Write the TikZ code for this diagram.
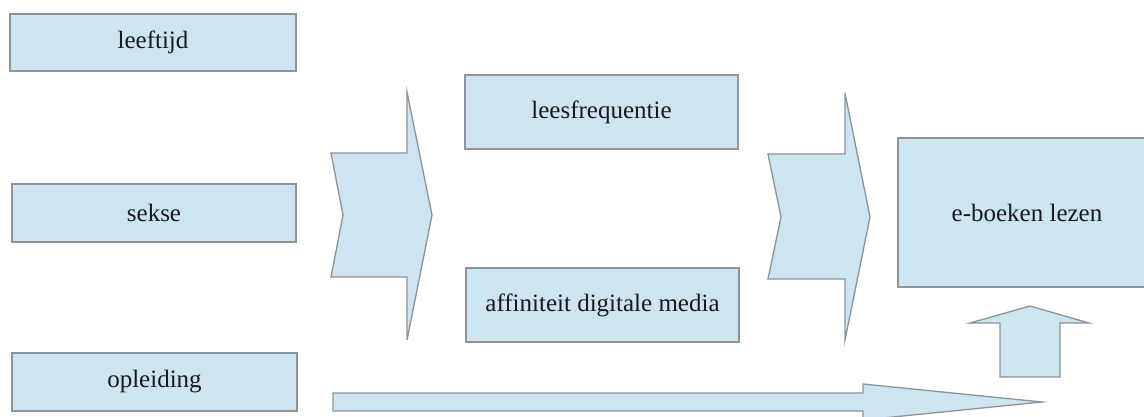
\documentclass[tikz,border=0pt]{standalone}
\usepackage{fontspec}
\setmainfont{Liberation Serif}
\definecolor{boxfill}{RGB}{205,228,241}
\definecolor{boxline}{RGB}{140,148,153}
\begin{document}
\begin{tikzpicture}[x=1pt,y=-1pt,
  factor/.style={draw=boxline, fill=boxfill, line width=1.3pt, inner sep=0pt,
    font=\fontsize{25}{29}\selectfont, text=black!90},
  blockarrow/.style={draw=boxline, fill=boxfill, line width=1.3pt, line join=miter}]
\useasboundingbox (0,0) rectangle (1144,417);
\clip (0,0) rectangle (1144,417);
\fill[white] (0,0) rectangle (1144,417);
% input boxes
\node[factor, minimum width=286pt, minimum height=57pt] (leeftijd) at (153,42.5) {leeftijd};
\node[factor, minimum width=284pt, minimum height=58pt] (sekse) at (154,213) {sekse};
\node[factor, minimum width=285pt, minimum height=58pt] (opleiding) at (154.5,382) {opleiding};
% mediators
\node[factor, minimum width=273pt, minimum height=74pt] (lees) at (601.5,112) {leesfrequentie};
\node[factor, minimum width=273pt, minimum height=74pt] (affin) at (602.5,305) {affiniteit digitale media};
% outcome
\node[factor, minimum width=258pt, minimum height=149pt] (ebook) at (1027,212.5) {e-boeken lezen};
% chevron block arrows
\draw[blockarrow] (407,92) -- (432,215) -- (407,340) -- (407,277) -- (331,277) -- (343,215) -- (331,153) -- (407,153) -- cycle;
\draw[blockarrow] (845,93) -- (870,217) -- (845,340) -- (845,279) -- (768,279) -- (781,217) -- (768,154) -- (845,154) -- cycle;
% up arrow into outcome
\draw[blockarrow] (1030,306) -- (1089,323) -- (1060,323) -- (1060,377) -- (1000,377) -- (1000,323) -- (970,323) -- cycle;
% long arrow
\draw[blockarrow] (333,393) -- (863,393) -- (863,384) -- (1042,402) -- (863,420) -- (863,411) -- (333,411) -- cycle;
\end{tikzpicture}
\end{document}
